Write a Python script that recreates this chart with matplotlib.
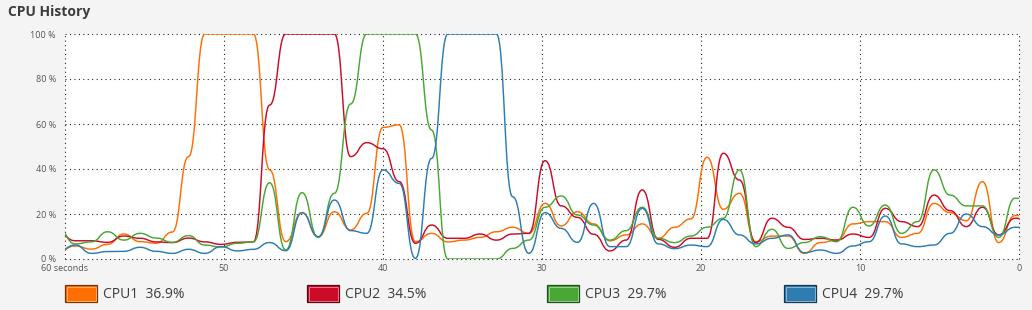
import numpy as np
import matplotlib
matplotlib.use("Agg")
import matplotlib.pyplot as plt
from matplotlib.path import Path
from matplotlib.patches import PathPatch, Rectangle

plt.rcParams['font.family'] = ['Open Sans', 'DejaVu Sans']

# ---------------- data ----------------
cpu_names = ["CPU1", "CPU2", "CPU3", "CPU4"]
cpu_usage = [36.9, 34.5, 29.7, 29.7]
cpu_colors = ["#FF6E00", "#CB0C29", "#49A835", "#2D7DB3"]
cpu_edge = ["#7a3500", "#600515", "#22501a", "#15394f"]

x_tick_values = [60, 50, 40, 30, 20, 10, 0]
x_tick_labels = ["60 seconds", "50", "40", "30", "20", "10", "0"]
y_tick_values = [0, 20, 40, 60, 80, 100]
y_tick_labels = ["0 %", "20 %", "40 %", "60 %", "80 %", "100 %"]

# samples, oldest -> newest (percent)
cpu1 = [3, 3.5, 5.8, 4.4, 6.5, 11.1, 7.7, 7.0, 12.0, 45.5,
        100, 100, 100, 100, 39.6, 7.7, 20.6, 9.9, 21.0, 12.9,
        20.3, 58.5, 59.6, 7.7, 11.4, 7.6, 8.4, 9.6, 12.1, 14.1,
        11.4, 24.7, 14.7, 21.0, 15.6, 8.1, 10.7, 15.6, 9.2, 14.1,
        17.8, 45.2, 22.1, 29.2, 7.7, 10.2, 10.2, 2.5, 7.3, 8.4,
        15.6, 16.6, 16.6, 9.6, 11.4, 24.7, 20.6, 17.0, 34.4, 7.3,
        19.3, 18.8]
cpu2 = [13, 11.5, 8.1, 8.1, 7.4, 10.2, 9.2, 7.6, 7.3, 9.3,
        7.6, 6.5, 7.4, 7.6, 68.4, 100, 100, 100, 100, 45.5,
        51.7, 49.0, 34.4, 7.0, 15.1, 9.2, 9.2, 11.1, 8.4, 11.1,
        11.4, 43.7, 23.6, 18.5, 11.0, 3.6, 8.4, 30.7, 8.7, 5.2,
        9.2, 9.2, 47.0, 35.1, 7.3, 18.1, 14.1, 8.7, 9.2, 8.4,
        11.1, 9.6, 22.5, 16.6, 14.4, 28.4, 21.5, 14.4, 23.0, 10.7,
        18.1, 17.3]
cpu3 = [14, 12.9, 6.7, 7.6, 12.1, 8.4, 11.4, 9.3, 7.4, 10.4,
        6.2, 5.3, 7.0, 7.6, 33.9, 4.0, 29.5, 9.6, 29.2, 68.9,
        100, 100, 100, 100, 57.3, 0, 0, 0, 0, 4.7,
        8.4, 23.0, 28.0, 19.6, 15.1, 8.4, 12.6, 23.0, 9.2, 7.3,
        10.2, 14.1, 18.1, 39.6, 5.5, 13.2, 4.7, 7.3, 9.9, 7.7,
        23.0, 14.7, 24.0, 11.4, 16.6, 39.6, 28.4, 23.6, 23.6, 9.6,
        27.0, 26.2]
cpu4 = [3, 3.7, 6.2, 2.5, 3.3, 3.4, 5.2, 3.4, 2.5, 4.3,
        2.5, 5.5, 3.6, 4.3, 7.3, 3.7, 20.6, 9.9, 26.2, 12.6,
        11.4, 39.6, 33.6, 0.3, 44.7, 100, 100, 100, 100, 27.7,
        2.5, 20.6, 13.6, 7.4, 24.7, 5.5, 5.5, 22.5, 6.7, 4.6,
        6.2, 5.5, 17.6, 10.7, 6.7, 9.2, 10.7, 2.8, 4.0, 2.5,
        5.8, 7.7, 19.1, 6.7, 5.5, 6.2, 11.4, 20.0, 14.4, 10.7,
        14.1, 14.1]
series = [cpu1, cpu2, cpu3, cpu4]

# sample times (seconds ago); samples slightly more than 1 s apart
n = len(cpu1)
sample_step = 1.019
t_newest = -0.76
times = t_newest + sample_step * np.arange(n)[::-1]

# ---------------- figure ----------------
W, H = 1032, 310
fig = plt.figure(figsize=(W / 100, H / 100), dpi=100, facecolor="#f4f4f4")
L, R, T, B = 65, 1019, 34, 259
ax = fig.add_axes([L / W, 1 - B / H, (R - L) / W, (B - T) / H])
ax.set_facecolor("white")
ax.set_xlim(60, 0)
ax.set_ylim(0, 100)
for s in ax.spines.values():
    s.set_visible(False)

grid_kw = dict(color="#222222", lw=0.8, linestyle=(0, (1, 3)), clip_on=False, zorder=1)
for y in y_tick_values:
    ax.axhline(y, **grid_kw)
for x in x_tick_values:
    ax.axvline(x, **grid_kw)

ax.set_yticks(y_tick_values)
ax.set_yticklabels(y_tick_labels)
ax.set_xticks(x_tick_values)
ax.set_xticklabels(x_tick_labels)
ax.tick_params(axis="y", length=0, pad=6.5, labelsize=6.5, labelcolor="#555555")
ax.tick_params(axis="x", length=0, pad=3.5, labelsize=6.5, labelcolor="#555555")

# smooth curves: flat tangent at each sample (control points at the half step)
for vals, col in zip(series, cpu_colors):
    v = np.asarray(vals, dtype=float)
    verts = [(times[0], v[0])]
    codes = [Path.MOVETO]
    for i in range(1, n):
        xm = (times[i - 1] + times[i]) / 2
        verts += [(xm, v[i - 1]), (xm, v[i]), (times[i], v[i])]
        codes += [Path.CURVE4] * 3
    patch = PathPatch(Path(verts, codes), fill=False, edgecolor=col, lw=1.05,
                      zorder=3, capstyle="round", joinstyle="round")
    ax.add_patch(patch)

# title
fig.text(8 / W, 1 - 12 / H, "CPU History", fontsize=10, fontweight="bold",
         color="#3c3c3c", va="center", ha="left")

# legend
box_x = [65, 307, 547, 784]
bw, bh, by = 32, 17, 285
for name, use, col, ec, bx in zip(cpu_names, cpu_usage, cpu_colors, cpu_edge, box_x):
    fig.add_artist(Rectangle((bx / W, 1 - (by + bh) / H), bw / W, bh / H,
                             transform=fig.transFigure, facecolor=col,
                             edgecolor=ec, lw=0.9))
    fig.add_artist(Rectangle(((bx + 1.5) / W, 1 - (by + bh - 1.5) / H), (bw - 3) / W, (bh - 3) / H,
                             transform=fig.transFigure, facecolor="none",
                             edgecolor=(1, 1, 1, 0.45), lw=0.7))
    fig.text((bx + 38) / W, 1 - (by + bh / 2 + 0.5) / H, f"{name}  {use:.1f}%",
             fontsize=10, color="#3c3c3c", va="center", ha="left")

fig.savefig("out.png", dpi=100, facecolor=fig.get_facecolor())
